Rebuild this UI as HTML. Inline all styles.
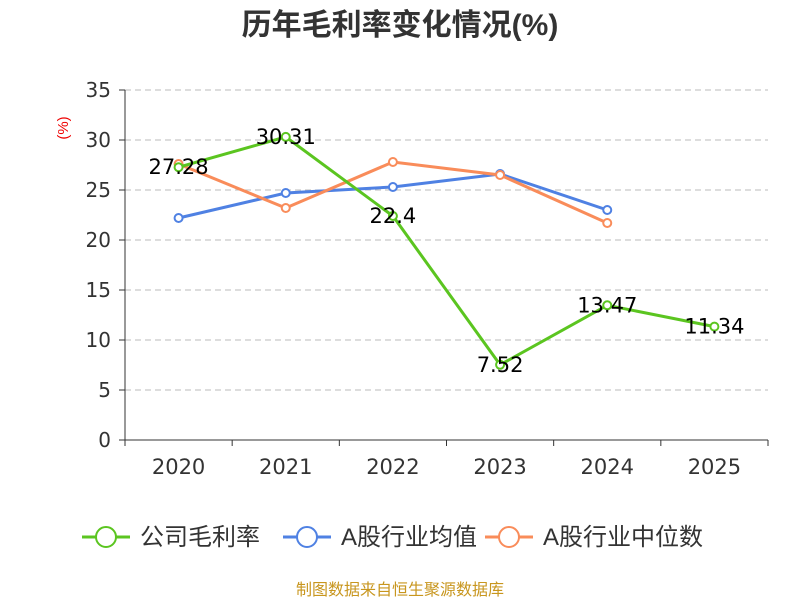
<!DOCTYPE html>
<html><head><meta charset="utf-8"><style>
body{margin:0;background:#fff;width:800px;height:600px;overflow:hidden;font-family:"Liberation Sans","Noto Sans CJK SC",sans-serif}
.dv{font-family:"DejaVu Sans","Noto Sans CJK SC",sans-serif}
</style></head><body>
<svg id="chart" width="800" height="600" xmlns="http://www.w3.org/2000/svg"></svg>
<script>
const categories=["2020","2021","2022","2023","2024","2025"];
const companyValues=[27.28,30.31,22.4,7.52,13.47,11.34];
const industryAvg=[22.2,24.7,25.3,26.6,23.0,null];
const industryMedian=[27.6,23.2,27.8,26.5,21.7,null];
const yTicks=[0,5,10,15,20,25,30,35];
const svg=document.getElementById('chart');
const NS='http://www.w3.org/2000/svg';
const x0=125,x1=768,yBase=440,yTop=90,yMax=35;
const band=(x1-x0)/categories.length;
const xs=i=>x0+band*(i+0.5);
const ys=v=>yBase-(v/yMax)*(yBase-yTop);
function mk(tag,attrs,parent){const e=document.createElementNS(NS,tag);for(const k in attrs)e.setAttribute(k,attrs[k]);(parent||svg).appendChild(e);return e;}
let t=mk('text',{x:400,y:35,'text-anchor':'middle','font-size':30,'font-weight':'bold',fill:'#333'});t.textContent='历年毛利率变化情况(%)';


t=mk('text',{x:68,y:128,'text-anchor':'middle','font-size':15,fill:'#e00',transform:'rotate(-90 68 128)'});t.textContent='(%)';


yTicks.forEach(v=>{
  const y=ys(v);
  if(v>0){const g=mk('line',{x1:x0,x2:x1,y1:y,y2:y,stroke:'#bbb','stroke-dasharray':'6,4'});
  
  }
  mk('line',{x1:x0-6,x2:x0,y1:y,y2:y,stroke:'#333'});
  const l=mk('text',{x:x0-14,y:y+7,'text-anchor':'end','font-size':20,fill:'#333',class:'dv'});l.textContent=v;
  
  
});
mk('line',{x1:x0,x2:x0,y1:yTop,y2:yBase,stroke:'#333'});
mk('line',{x1:x0,x2:x1,y1:yBase,y2:yBase,stroke:'#333'});
for(let i=0;i<=categories.length;i++){mk('line',{x1:x0+band*i,x2:x0+band*i,y1:yBase,y2:yBase+6,stroke:'#333'});}
categories.forEach((c,i)=>{const l=mk('text',{x:xs(i),y:474,'text-anchor':'middle','font-size':21,fill:'#333',class:'dv'});l.textContent=c;

});
function series(vals,color,name,labels){
  const pts=[];vals.forEach((v,i)=>{if(v!=null)pts.push([xs(i),ys(v)]);});
  const p=mk('polyline',{points:pts.map(p=>p.join(',')).join(' '),fill:'none',stroke:color,'stroke-width':3});
  
  
  vals.forEach((v,i)=>{if(v==null)return;
    const c=mk('circle',{cx:xs(i),cy:ys(v),r:4,fill:'#fff',stroke:color,'stroke-width':2});
    
    
    if(labels){const l=mk('text',{x:xs(i),y:ys(v)+7,'text-anchor':'middle','font-size':21,fill:'#000',class:'dv'});l.textContent=v;
      
      }
  });
}
series(industryAvg,'#4f81e3','industry-average',false);
series(industryMedian,'#f98c5a','industry-median',false);
series(companyValues,'#5bc520','company',true);
const legend=[["公司毛利率",'#5bc520',82],["A股行业均值",'#4f81e3',283],["A股行业中位数",'#f98c5a',485]];
legend.forEach(([n,c,x])=>{
  const g=mk('g',{});
  
  
  mk('line',{x1:x,x2:x+48,y1:537,y2:537,stroke:c,'stroke-width':3},g);
  mk('circle',{cx:x+24,cy:537,r:10,fill:'#fff',stroke:c,'stroke-width':2},g);
  const l=mk('text',{x:x+58,y:545,'font-size':24,fill:'#333'},g);l.textContent=n;
});
t=mk('text',{x:400,y:595,'text-anchor':'middle','font-size':16,fill:'#c8961e'});t.textContent='制图数据来自恒生聚源数据库';


</script>
</body></html>
